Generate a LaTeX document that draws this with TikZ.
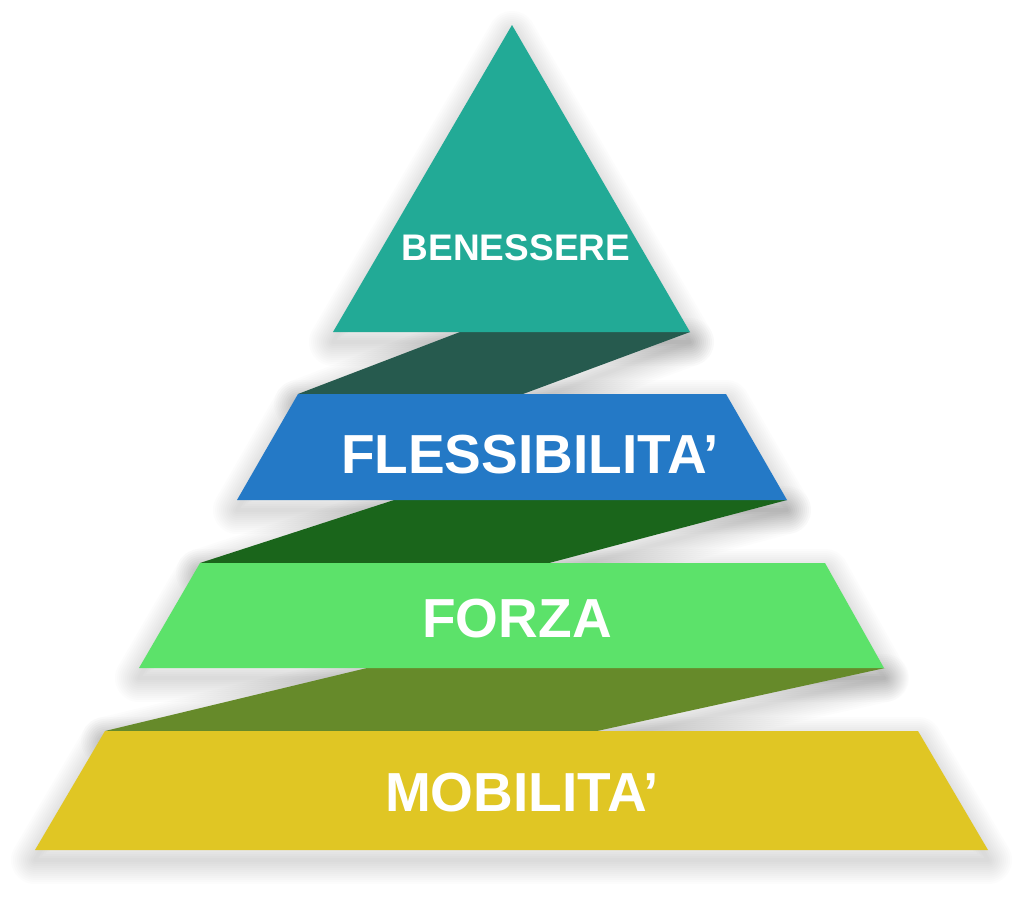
\documentclass[tikz,border=0pt]{standalone}
\usepackage{fontspec}
\setmainfont{Liberation Sans}
\definecolor{cTri}{HTML}{22AA96}
\definecolor{cBandA}{HTML}{265A4E}
\definecolor{cBlue}{HTML}{2479C6}
\definecolor{cBandB}{HTML}{1A651B}
\definecolor{cGreen}{HTML}{5CE26A}
\definecolor{cBandC}{HTML}{668A2A}
\definecolor{cYellow}{HTML}{E0C624}
\newcommand{\castshadow}[1]{%
  \foreach \w in {48,44,...,4}{%
    \draw[black,opacity=0.01,line width=\w pt,line join=round,yshift=-10pt] #1 -- cycle;}}
\begin{document}
\begin{tikzpicture}[x=1pt,y=-1pt,
  lbl/.style={text=white,font=\bfseries\fontsize{55}{55}\selectfont,anchor=base,inner sep=0pt},
  lblsmall/.style={lbl,font=\bfseries\fontsize{37}{37}\selectfont}]
\useasboundingbox (0,0) rectangle (1024,898);
\fill[white] (0,0) rectangle (1024,898);
% shapes
\def\pYellow{(105,731) -- (918,731) -- (988,850) -- (35,850)}
\def\pBandC{(367,668) -- (885,668) -- (597,731) -- (105,731)}
\def\pGreen{(200,563) -- (825,563) -- (884,668) -- (139,668)}
\def\pBandB{(394,500) -- (787,500) -- (549,563) -- (200,563)}
\def\pBlue{(298,394) -- (726,394) -- (787,500) -- (237,500)}
\def\pBandA{(460,332) -- (690,332) -- (523,394) -- (298,394)}
\def\pTri{(512,25) -- (690,332) -- (333,332)}
% soft shadows
\castshadow{\pBandC}
\castshadow{\pBandB}
\castshadow{\pBandA}
\castshadow{\pYellow}
\castshadow{\pGreen}
\castshadow{\pBlue}
\castshadow{\pTri}
% connecting bands
\fill[cBandC] \pBandC -- cycle;
\fill[cBandB] \pBandB -- cycle;
\fill[cBandA] \pBandA -- cycle;
% tiers
\fill[cYellow] \pYellow -- cycle;
\fill[cGreen] \pGreen -- cycle;
\fill[cBlue] \pBlue -- cycle;
\fill[cTri] \pTri -- cycle;
% labels
\node[lblsmall] (ben) at (516,260) {BENESSERE};
\node[lbl] (fle) at (530,473) {FLESSIBILITA’};
\node[lbl] (for) at (517,637) {FORZA};
\node[lbl] (mob) at (522,811) {MOBILITA’};
\end{tikzpicture}
\end{document}
